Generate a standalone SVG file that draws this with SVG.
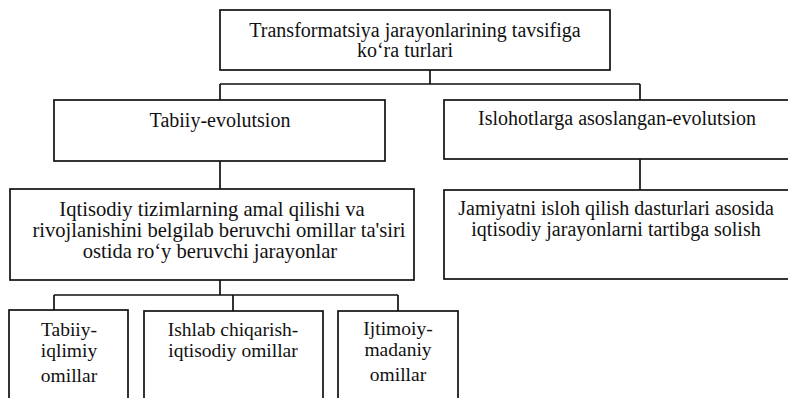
<svg xmlns="http://www.w3.org/2000/svg" width="788" height="398" viewBox="0 0 788 398">
<style>
.box{fill:#fff;stroke:#111;stroke-width:1.7}
.ln{fill:none;stroke:#111;stroke-width:1.7}
text{font-family:"Liberation Serif","Times New Roman",serif;font-size:20px;fill:#111;text-anchor:middle}
.sm{font-size:19.5px}
.lg{font-size:20.6px}
</style>
<rect width="788" height="398" fill="#fff"/>
<g id="connectors">
<path class="ln" d="M430,70 V84 M220,84 H640 M220,84 V100 M640,84 V100"/>
<path class="ln" d="M220,161 V189"/>
<path class="ln" d="M640,159 V190"/>
<path class="ln" d="M220,280 V295 M54,295 H398 M54,295 V310 M233,295 V311 M398,295 V311"/>
</g>
<g id="n-root">
<rect class="box" x="220" y="10" width="390" height="60"/>
<text x="415" y="37">Transformatsiya jarayonlarining tavsifiga</text>
<text x="405" y="57">ko‘ra turlari</text>
</g>
<g id="n-tabiiy">
<rect class="box" x="54" y="100" width="331" height="61"/>
<text x="220" y="127">Tabiiy-evolutsion</text>
</g>
<g id="n-isloh">
<rect class="box" x="444" y="100" width="346" height="59"/>
<text x="617" y="125">Islohotlarga asoslangan-evolutsion</text>
</g>
<g id="n-iqtisodiy">
<rect class="box" x="10" y="189" width="404" height="91"/>
<text class="lg" x="212" y="216">Iqtisodiy tizimlarning amal qilishi va</text>
<text class="lg" x="219" y="237">rivojlanishini belgilab beruvchi omillar ta'siri</text>
<text class="lg" x="210" y="258">ostida ro‘y beruvchi jarayonlar</text>
</g>
<g id="n-jamiyat">
<rect class="box" x="444" y="190" width="346" height="89"/>
<text x="616" y="215">Jamiyatni isloh qilish dasturlari asosida</text>
<text x="616" y="236">iqtisodiy jarayonlarni tartibga solish</text>
</g>
<g id="n-tabiiy-iqlimiy">
<rect class="box" x="9" y="310" width="119" height="100"/>
<text class="sm" x="69" y="336">Tabiiy-</text>
<text class="sm" x="69" y="357">iqlimiy</text>
<text class="sm" x="69" y="382">omillar</text>
</g>
<g id="n-ishlab">
<rect class="box" x="144" y="311" width="179" height="100"/>
<text class="sm" x="233" y="336">Ishlab chiqarish-</text>
<text class="sm" x="233" y="357">iqtisodiy omillar</text>
</g>
<g id="n-ijtimoiy">
<rect class="box" x="338" y="311" width="120" height="100"/>
<text class="sm" x="398" y="335">Ijtimoiy-</text>
<text class="sm" x="398" y="356">madaniy</text>
<text class="sm" x="398" y="381">omillar</text>
</g>
</svg>
